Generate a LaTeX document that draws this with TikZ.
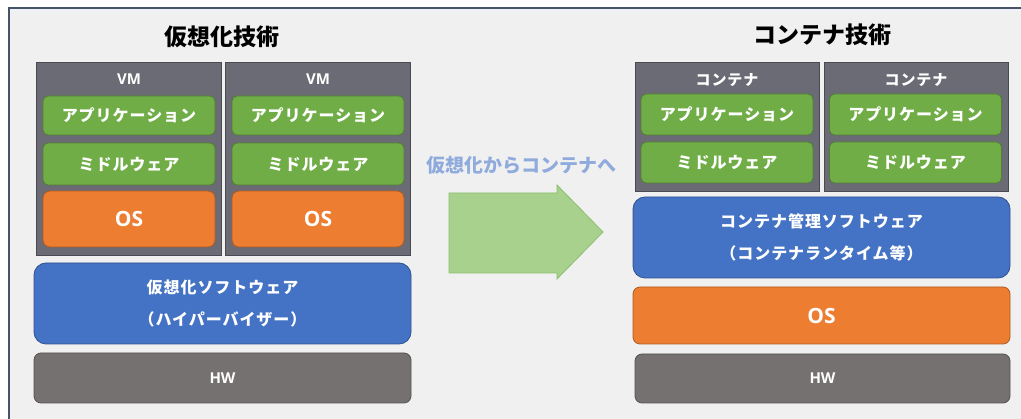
\documentclass[tikz,border=0pt]{standalone}
\usepackage{fontspec}
\setmainfont{Open Sans}
\newfontfamily\jp[LetterSpace=6]{Noto Sans CJK JP}
\newfontfamily\jptitle{Noto Sans CJK JP}
\definecolor{bg}{HTML}{F0F0F0}
\definecolor{frame}{HTML}{44546A}
\definecolor{vmgray}{HTML}{6B6B75}
\definecolor{vmline}{HTML}{4A4A52}
\definecolor{hwgray}{HTML}{767171}
\definecolor{hwline}{HTML}{555252}
\definecolor{grn}{HTML}{70AD47}
\definecolor{grnline}{HTML}{507E32}
\definecolor{org}{HTML}{ED7D31}
\definecolor{orgline}{HTML}{AE5A21}
\definecolor{blu}{HTML}{4472C4}
\definecolor{bluline}{HTML}{2F528F}
\definecolor{arrfill}{HTML}{A9D18E}
\definecolor{arrline}{HTML}{8CBF6C}
\definecolor{lbl}{HTML}{8FAADC}
\tikzset{
  box/.style={rectangle, line width=0.8pt, text=white, align=center, inner sep=0pt},
  vmbox/.style={box, fill=vmgray, draw=vmline},
  appbox/.style={box, fill=grn, draw=grnline, rounded corners=5pt, font=\jp\bfseries\fontsize{16}{18}\selectfont},
  osbox/.style={box, fill=org, draw=orgline, rounded corners=7pt, font=\bfseries\fontsize{21}{24}\selectfont},
  swbox/.style={box, fill=blu, draw=bluline, rounded corners=12pt, font=\jp\bfseries\fontsize{16}{32}\selectfont},
  hwbox/.style={box, fill=hwgray, draw=hwline, rounded corners=7pt, font=\bfseries\fontsize{15}{17}\selectfont},
  vmlabel/.style={text=white, inner sep=0pt},
  title/.style={font=\jptitle\bfseries\fontsize{23}{26}\selectfont, inner sep=0pt},
}
\begin{document}
\begin{tikzpicture}[x=1pt,y=-1pt]
\useasboundingbox (0,0) rectangle (1021,419);
\fill[white] (0,0) rectangle (1021,419);
\fill[bg] (9,8) rectangle (1021,419);
\draw[white!80!blue!30, line width=1pt] (10,10.5) -- (1021,10.5);
\draw[frame, line width=1.6pt] (9,419) -- (9,8) -- (1021,8);

% left: virtualization
\node[title] (t1) at (222,37) {仮想化技術};
\node[vmbox, minimum width=185pt, minimum height=193pt] (vm1) at (128.5,158.5) {};
\node[vmbox, minimum width=185pt, minimum height=193pt] (vm2) at (317.5,158.5) {};
\node[vmlabel, font=\bfseries\fontsize{15}{17}\selectfont] (vm1l) at (129,79) {VM};
\node[vmlabel, font=\bfseries\fontsize{15}{17}\selectfont] (vm2l) at (318,79) {VM};
\node[appbox, minimum width=172pt, minimum height=39pt] (app1) at (129,115.5) {アプリケーション};
\node[appbox, minimum width=172pt, minimum height=39pt] (app2) at (318,115.5) {アプリケーション};
\node[appbox, minimum width=172pt, minimum height=42pt] (mw1) at (129,164) {ミドルウェア};
\node[appbox, minimum width=172pt, minimum height=42pt] (mw2) at (318,164) {ミドルウェア};
\node[osbox, minimum width=172pt, minimum height=56pt] (os1) at (129,219) {OS};
\node[osbox, minimum width=172pt, minimum height=56pt] (os2) at (318,219) {OS};
\node[swbox, minimum width=377pt, minimum height=81pt] (hyp) at (222.5,303.5) {仮想化ソフトウェア\\（ハイパーバイザー）};
\node[hwbox, minimum width=377pt, minimum height=50pt] (hw1) at (222.5,378) {HW};

% arrow
\node[font=\jptitle\bfseries\fontsize{19}{21}\selectfont, text=lbl, inner sep=0pt] (arrl) at (521,165) {仮想化からコンテナへ};
\path[fill=arrfill, draw=arrline, line width=0.8pt] (449,193) -- (557,193) -- (557,185) -- (603,232) -- (557,279) -- (557,273) -- (449,273) -- cycle;

% right: container
\node[title] (t2) at (822,35) {コンテナ技術};
\node[vmbox, minimum width=184pt, minimum height=129pt] (c1) at (727,126.5) {};
\node[vmbox, minimum width=184pt, minimum height=129pt] (c2) at (916,126.5) {};
\node[vmlabel, font=\jp\bfseries\fontsize{15}{17}\selectfont] (c1l) at (727,80) {コンテナ};
\node[vmlabel, font=\jp\bfseries\fontsize{15}{17}\selectfont] (c2l) at (916,80) {コンテナ};
\node[appbox, minimum width=172pt, minimum height=41pt] (app3) at (727,114.5) {アプリケーション};
\node[appbox, minimum width=172pt, minimum height=41pt] (app4) at (915.5,114.5) {アプリケーション};
\node[appbox, minimum width=172pt, minimum height=41pt] (mw3) at (727,162.5) {ミドルウェア};
\node[appbox, minimum width=172pt, minimum height=41pt] (mw4) at (915.5,162.5) {ミドルウェア};
\node[swbox, minimum width=377pt, minimum height=81pt] (cm) at (821.5,237.5) {コンテナ管理ソフトウェア\\（コンテナランタイム等）};
\node[osbox, minimum width=377pt, minimum height=57pt] (os3) at (821.5,315.5) {OS};
\node[hwbox, minimum width=375pt, minimum height=49pt] (hw2) at (822.5,378.5) {HW};
\end{tikzpicture}
\end{document}
